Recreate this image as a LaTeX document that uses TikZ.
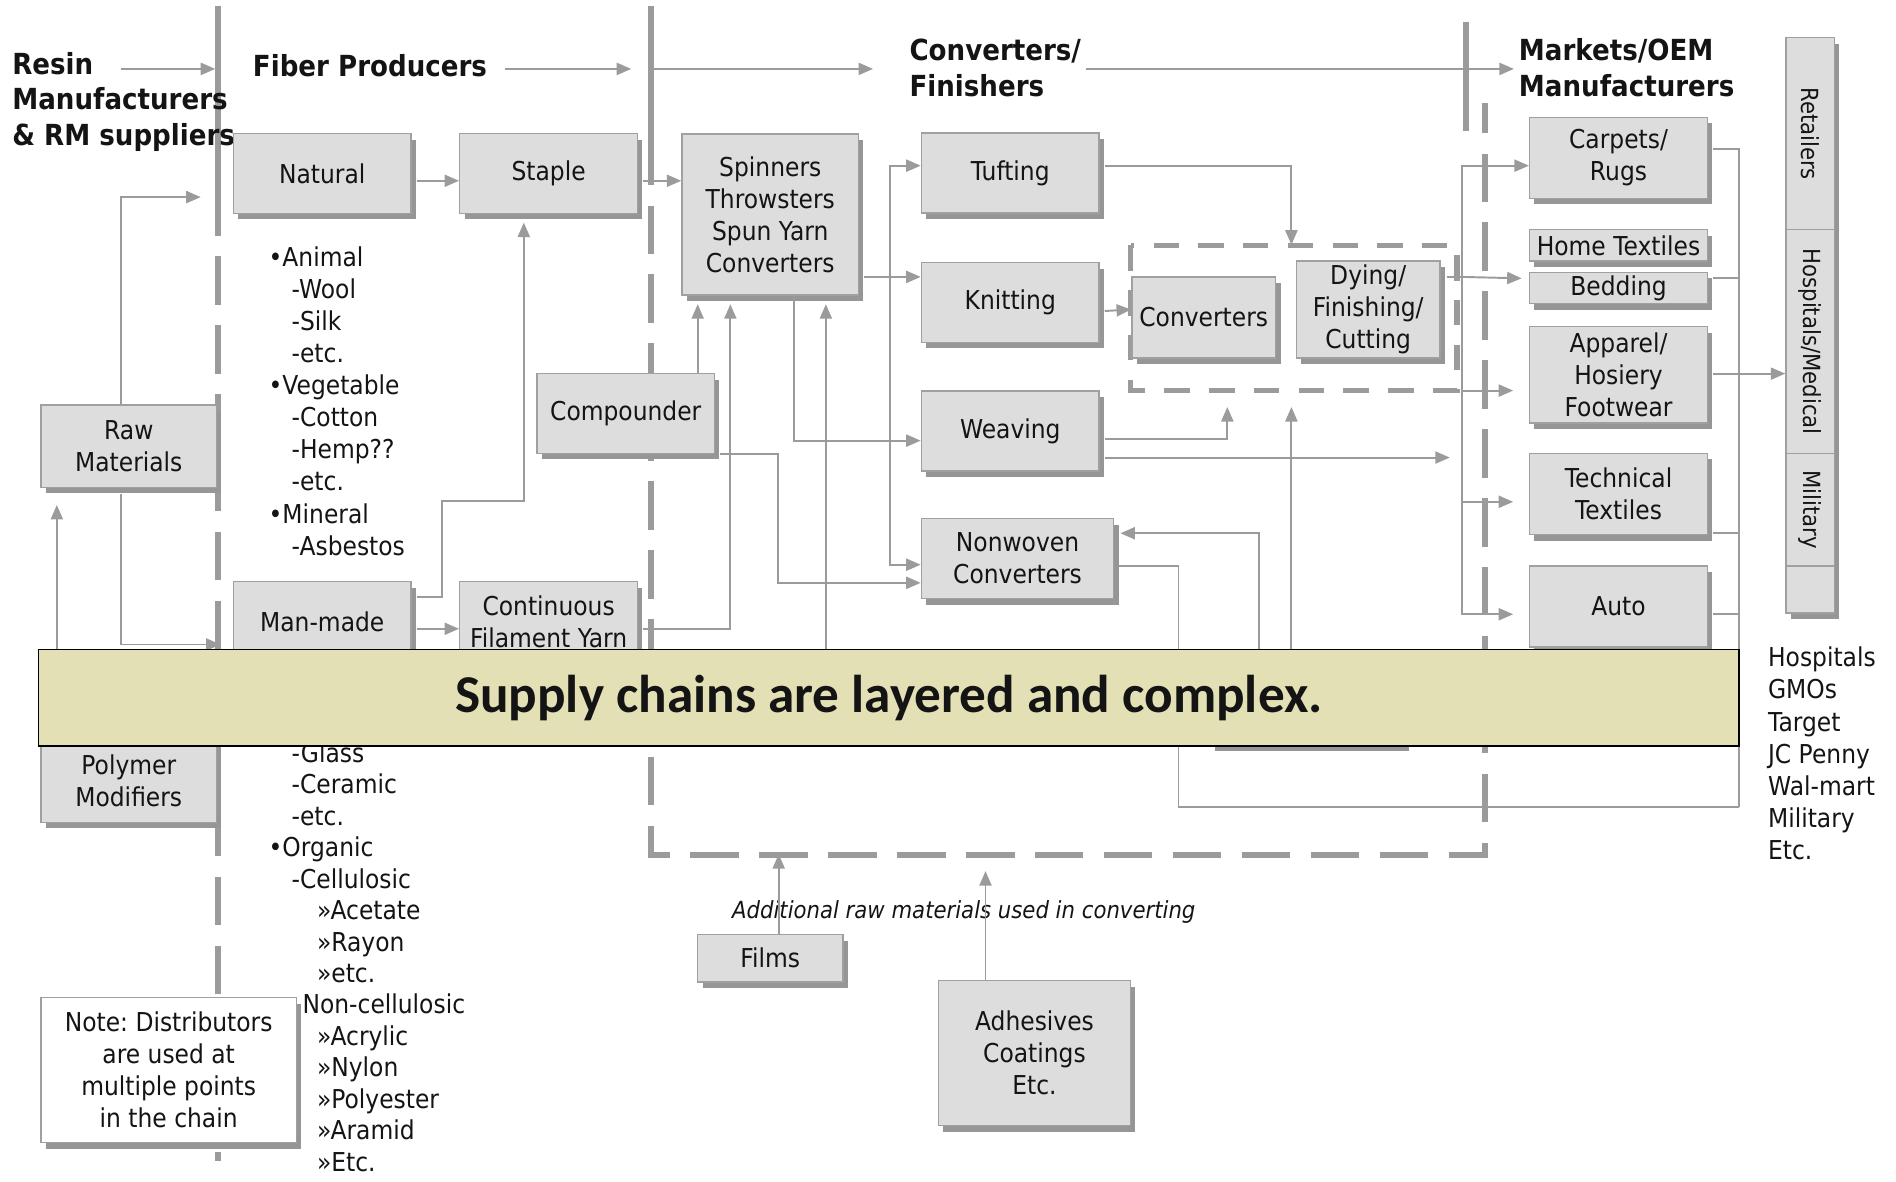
\documentclass[tikz,border=0pt]{standalone}
\usepackage{fontspec}
\setmainfont{DejaVu Sans}[FakeStretch=0.9]
\newfontfamily\bannerfont{Carlito}
\usepackage{xcolor}
\usetikzlibrary{positioning, calc, shadows, arrows.meta}

\definecolor{boxfill}{RGB}{221,221,221}
\definecolor{boxline}{RGB}{160,160,160}
\definecolor{shade}{RGB}{150,150,150}
\definecolor{wire}{RGB}{155,155,155}
\definecolor{sepgray}{RGB}{155,155,155}
\definecolor{bannerfill}{RGB}{228,224,182}
\definecolor{ink}{RGB}{20,20,20}

\begin{document}
\begin{tikzpicture}[
		x=1pt, y=-1pt,
		every node/.style={text=ink, font=\fontsize{21.5}{26.5}\selectfont},
		box/.style={rectangle, draw=boxline, line width=1.2pt, fill=boxfill, align=center, inner sep=0pt,
			drop shadow={shadow xshift=4pt, shadow yshift=-5pt, opacity=1, fill=shade, draw=none}},
		stdbox/.style={box, minimum width=147pt, minimum height=66pt},
		barbox/.style={box, minimum width=40pt, font=\fontsize{19.5}{24}\selectfont},
		header/.style={font=\fontsize{24}{29.5}\selectfont\bfseries, align=left, inner sep=0pt},
		listtext/.style={align=left, inner sep=0pt},
		pointer/.style={draw=wire, line width=1.6pt, -{Triangle[length=12pt, width=10pt]}},
		link/.style={draw=wire, line width=1.6pt},
		divider/.style={draw=sepgray, line width=5pt},
		dashdivider/.style={divider, dash pattern=on 40pt off 17pt},
		groupline/.style={draw=sepgray, line width=4.4pt, dash pattern=on 21pt off 16pt}
		]
		\useasboundingbox (0,0) rectangle (1568,977);
		
		% Stage separators
		\draw[divider] (180,5) -- (180,155);
		\draw[dashdivider] (180,155) -- (180,960);
		\draw[divider] (538,5) -- (538,113);
		\draw[dashdivider] (538,113) -- (538,707) -- (1228,707) -- (1228,85);
		\draw[divider] (1212,18) -- (1212,108);
		\draw[groupline] (935,203) rectangle (1205,323);
		
		\coordinate (sepa) at (180,57);
		\coordinate (sepb) at (538,57);
		\coordinate (sepc) at (1212,57);
		
		% Stage headers
		\node[header, anchor=north west] (hresin) at (10,43) {Resin\\Manufacturers\\\& RM suppliers};
		\node[header, anchor=west] (hfiber) at (209,54) {Fiber Producers};
		\node[header, anchor=north west] (hconv) at (752,32) {Converters/\\Finishers};
		\node[header, anchor=north west] (hmarket) at (1256,32) {Markets/OEM\\Manufacturers};
		
		% Raw materials
		\node[box, minimum width=145pt, minimum height=68pt] (raw) at (106.5,369) {Raw\\Materials};
		\node[box, minimum width=145pt, minimum height=68pt] (poly) at (106.5,646) {Polymer\\Modifiers};
		
		% Fiber producers
		\node[stdbox] (natural) at (266.5,143.5) {Natural};
		\node[stdbox, right=39pt of natural] (staple) {Staple};
		\node[stdbox] (manmade) at (266.5,514) {Man-made};
		\node[stdbox, right=39pt of manmade] (cfy) {Continuous\\Filament Yarn};
		\node[stdbox] (compo) at (517.5,342) {Compounder};
		
		\node[listtext, anchor=north west] (natlist) at (222,204) {•Animal\\\hspace*{19pt}-Wool\\\hspace*{19pt}-Silk\\\hspace*{19pt}-etc.\\•Vegetable\\\hspace*{19pt}-Cotton\\\hspace*{19pt}-Hemp??\\\hspace*{19pt}-etc.\\•Mineral\\\hspace*{19pt}-Asbestos};
		\node[listtext, anchor=north west, font=\fontsize{21.5}{26}\selectfont] (manlist) at (222,614) {\hspace*{19pt}-Glass\\\hspace*{19pt}-Ceramic\\\hspace*{19pt}-etc.\\•Organic\\\hspace*{19pt}-Cellulosic\\\hspace*{40pt}»Acetate\\\hspace*{40pt}»Rayon\\\hspace*{40pt}»etc.\\\hspace*{28pt}Non-cellulosic\\\hspace*{40pt}»Acrylic\\\hspace*{40pt}»Nylon\\\hspace*{40pt}»Polyester\\\hspace*{40pt}»Aramid\\\hspace*{40pt}»Etc.};
		
		\node[box, fill=white, minimum width=211pt, minimum height=120pt] (note) at (139.5,885) {Note:~Distributors\\are used at\\multiple points\\in the chain};
		
		% Converters / finishers
		\node[box, minimum width=146pt, minimum height=133pt] (spin) at (637,177.5) {Spinners\\Throwsters\\Spun Yarn\\Converters};
		\node[stdbox] (tuft) at (835.5,143) {Tufting};
		\node[stdbox, below=40pt of tuft] (knit) {Knitting};
		\node[stdbox, below=39pt of knit] (weave) {Weaving};
		\node[box, minimum width=159pt, minimum height=66pt] (nonwoven) at (841.5,462) {Nonwoven\\Converters};
		\node[box, minimum width=119pt, minimum height=67pt] (conv) at (995.5,262.5) {Converters};
		\node[box, minimum width=119pt, minimum height=80pt] (dying) at (1131.5,256) {Dying/\\Finishing/\\Cutting};
		\node[box, minimum width=160pt, minimum height=64pt] (hid) at (1081,584) {};
		
		\node[box, minimum width=120pt, minimum height=39pt] (films) at (637,792.5) {Films};
		\node[box, minimum width=159pt, minimum height=120pt] (adhes) at (855.5,871) {Adhesives\\Coatings\\Etc.};
		\node[font=\fontsize{19.5}{24}\selectfont\itshape, inner sep=0pt] (extra) at (797,754) {Additional raw materials used in converting};
		
		% Markets
		\node[stdbox, minimum height=67pt] (carpets) at (1338.5,130.5) {Carpets/\\Rugs};
		\node[box, minimum width=147pt, minimum height=26pt] (home) at (1338.5,203) {Home Textiles};
		\node[box, minimum width=147pt, minimum height=26pt, below=8pt of home] (bedding) {Bedding};
		\node[box, minimum width=147pt, minimum height=80pt] (apparel) at (1338.5,310) {Apparel/\\Hosiery\\Footwear};
		\node[stdbox, minimum height=67pt] (techn) at (1338.5,408.5) {Technical\\Textiles};
		\node[stdbox, minimum height=67pt] (auto) at (1338.5,501.5) {Auto};
		
		\node[barbox, minimum height=159pt] (retail) at (1497,110.5) {\rotatebox{-90}{Retailers}};
		\node[barbox, minimum height=185pt] (hosp) at (1497,282.5) {\rotatebox{-90}{Hospitals/Medical}};
		\node[barbox, minimum height=93pt] (milit) at (1497,421.5) {\rotatebox{-90}{Military}};
		\node[barbox, minimum height=39pt] (spare) at (1497,487.5) {};
		
		\node[listtext, anchor=north west] (buyers) at (1462,535) {Hospitals\\GMOs\\Target\\JC Penny\\Wal-mart\\Military\\Etc.};
		
		% Header flow
		\draw[pointer] ($(sepa)+(-80,0)$) -- ($(sepa)+(-2,0)$);
		\draw[pointer] ($(sepb)+(-120,0)$) -- ($(sepb)+(-16,0)$);
		\draw[pointer] ($(sepb)+(2,0)$) -- ($(sepb)+(184,0)$);
		\draw[pointer] ($(sepc)+(-314,0)$) -- ($(sepc)+(40,0)$);
		
		% Raw material links
		\draw[pointer] ($(raw.north)+(-6.5,0)$) |- ($(sepa)+(-14,106)$);
		\draw[pointer] ($(raw.south)+(-6.5,5)$) |- ($(manmade.west)+(-10,19)$);
		\draw[pointer] ($(poly.north)+(-59.5,0)$) -- ($(raw.south)+(-59.5,14)$);
		
		% Fiber links
		\draw[pointer] ($(natural.east)+(4,6)$) -- ($(staple.west)+(0,6)$);
		\draw[pointer] ($(staple.east)+(4,6)$) -- ($(staple.east -| spin.west)+(0,6)$);
		\draw[pointer] ($(manmade.east)+(4,-20)$) -| ($(manmade.east)+(25,-100)$) -| ($(staple.south)+(-20.5,7)$);
		\draw[pointer] ($(manmade.east)+(4,6)$) -- ($(cfy.west)+(0,6)$);
		\draw[pointer] ($(cfy.east)+(4,6)$) -| ($(spin.south)+(-33,7)$);
		\draw[pointer] ($(compo.north)+(59.5,0)$) -- ($(spin.south)+(-60,7)$);
		\draw[pointer] ($(compo.south east)+(4,0)$) -| ($(nonwoven.west)+(-118,20)$) -- ($(nonwoven.west)+(0,20)$);
		\coordinate (feed) at (683,560);
		\draw[pointer] (feed) -- ($(spin.south)+(46,7)$);
		
		% Converter links
		\draw[pointer] ($(spin.south)+(20,0)$) |- ($(weave.west)+(0,8)$);
		\coordinate (spinbus) at (736,229);
		\draw[link] ($(spin.east)+(4,51.5)$) -- (spinbus);
		\draw[pointer] (spinbus) -- (spinbus -| knit.west);
		\draw[pointer] (spinbus) |- ($(tuft.west)+(0,-6)$);
		\draw[pointer] (spinbus) |- ($(nonwoven.west)+(0,5)$);
		\draw[pointer] ($(tuft.east)+(4,-6)$) -| ($(dying.north)+(-63.5,-13)$);
		\draw[pointer] ($(knit.east)+(4,7)$) -- ($(conv.west)+(0,-6.5)$);
		\draw[pointer] ($(weave.east)+(4,7)$) -| ($(conv.south)+(19.5,40)$);
		\coordinate (mbus) at (1209,229);
		\draw[pointer] ($(weave.east)+(4,22)$) -- ($(weave.east -| mbus)+(-10,22)$);
		\draw[pointer] ($(hid.north)+(-13,0)$) -- ($(conv.south)+(72.5,40)$);
		\draw[pointer] ($(hid.north)+(-40,0)$) |- ($(nonwoven.east)+(5,-21)$);
		\coordinate (rbus) at (1438,667);
		\draw[link] ($(nonwoven.east)+(4,6)$) -| ($(nonwoven.east)+(53,205)$) -- (rbus);
		
		% Additional materials
		\draw[pointer] ($(films.north)+(7,0)$) -- ++(0,-66);
		\draw[pointer] ($(adhes.north)+(-40.5,0)$) -- ++(0,-90);
		
		% Market links
		\draw[link] ($(dying.east)+(5,-27)$) -- (mbus);
		\draw[pointer] (mbus) -- ($(bedding.west)+(-6,-8)$);
		\draw[pointer] (mbus) |- ($(carpets.west)+(0,6.5)$);
		\draw[pointer] (mbus) |- ($(auto.west)+(-13,6.5)$);
		\draw[pointer] ($(apparel.west -| mbus)+(0,13)$) -- ($(apparel.west)+(-13,13)$);
		\draw[pointer] ($(techn.west -| mbus)+(0,6.5)$) -- ($(techn.west)+(-13,6.5)$);
		
		\draw[link] ($(carpets.east)+(4,-7.5)$) -| (rbus);
		\draw[link] ($(bedding.east)+(4,-8)$) -- ($(bedding.east -| rbus)+(0,-8)$);
		\draw[link] ($(techn.east)+(4,32.5)$) -- ($(techn.east -| rbus)+(0,32.5)$);
		\draw[link] ($(auto.east)+(4,6.5)$) -- ($(auto.east -| rbus)+(0,6.5)$);
		\draw[pointer] ($(apparel.east)+(4,-1)$) -- ($(apparel.east -| hosp.west)+(0,-1)$);
		
		% Caption banner
		\node[draw=black, line width=1.2pt, fill=bannerfill, minimum width=1406pt, minimum height=80pt, inner sep=0pt,
			font=\bannerfont\bfseries\fontsize{44}{50}\selectfont] (banner) at (735,577) {Supply chains are layered and complex.};
		
	\end{tikzpicture}
\end{document}
